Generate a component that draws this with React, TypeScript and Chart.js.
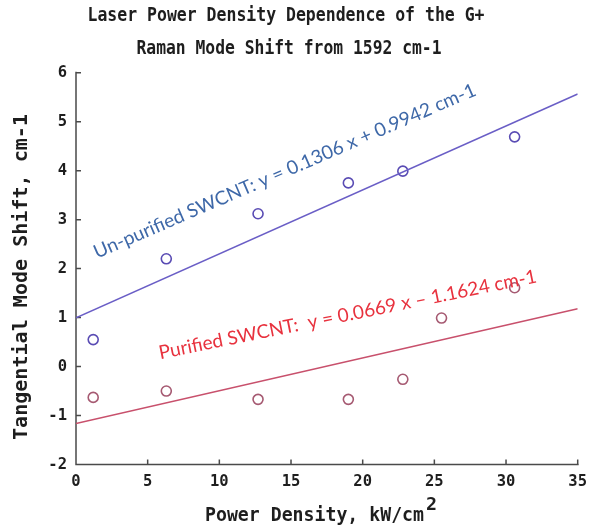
import { useEffect, useRef } from "react";
import { Chart, registerables } from "chart.js";

Chart.register(...registerables);

// Measured G+ shifts (cm-1) against laser power density (kW/cm2)
const unpurifiedDensity = [1.2, 6.3, 12.7, 19.0, 22.8, 30.6];
const unpurifiedShift = [0.55, 2.2, 3.12, 3.75, 3.99, 4.69];
const purifiedDensity = [1.2, 6.3, 12.7, 19.0, 22.8, 25.5, 30.6];
const purifiedShift = [-0.63, -0.5, -0.67, -0.67, -0.26, 0.99, 1.61];

// Linear fits quoted in the annotations
const unpurifiedSlope = 0.1306;
const unpurifiedIntercept = 0.9942;
const purifiedSlope = 0.0669;
const purifiedIntercept = -1.1624;

const xTicks = [0, 5, 10, 15, 20, 25, 30, 35];
const yTicks = [-2, -1, 0, 1, 2, 3, 4, 5, 6];

const titleLines = [
  "Laser Power Density Dependence of the G+",
  "Raman Mode Shift from 1592 cm-1",
];
const xTitle = "Power Density, kW/cm";
const xTitleSup = "2";
const yTitle = "Tangential Mode Shift, cm-1";
const unpurifiedLabel = "Un-purified SWCNT: y = 0.1306 x + 0.9942 cm-1";
const purifiedLabel = "Purified SWCNT:  y = 0.0669 x \u2013 1.1624 cm-1";

// Where each fit label starts and ends along its baseline, in data units
const unpurifiedLabelSpan = [[1.47, 2.2], [28.0, 5.55]];
const purifiedLabelSpan = [[5.87, 0.15], [32.2, 1.72]];

const MONO = "'DejaVu Sans Mono', monospace";
const AXIS_COLOR = "#4a4a4a";
const TEXT_COLOR = "#1e1e1e";
const BLUE_LINE = "#6a5ec6";
const BLUE_POINT = "#5a4cb4";
const RED_LINE = "#c8506c";
const RED_POINT = "#a65a72";
const BLUE_TEXT = "#3e68a8";
const RED_TEXT = "#e8323e";

const fitLine = (slope: number, intercept: number) =>
  [0, 35].map((x) => ({ x, y: slope * x + intercept }));

function fittedText(
  ctx: CanvasRenderingContext2D,
  text: string,
  x: number,
  y: number,
  width: number,
  font: string,
  color: string,
  angle = 0,
  align: CanvasTextAlign = "left"
) {
  ctx.save();
  ctx.font = font;
  ctx.fillStyle = color;
  ctx.textBaseline = "alphabetic";
  ctx.textAlign = align;
  const w = ctx.measureText(text).width;
  ctx.translate(x, y);
  ctx.rotate(angle);
  ctx.scale(width / w, 1);
  ctx.fillText(text, 0, 0);
  ctx.restore();
}

const figurePlugin = {
  id: "figureDecor",
  beforeDatasetsDraw(chart: any) {
    const { ctx, chartArea, scales } = chart;
    const { left, right, bottom, top } = chartArea;
    ctx.save();
    ctx.strokeStyle = AXIS_COLOR;
    ctx.lineWidth = 1.5;
    ctx.beginPath();
    ctx.moveTo(left, top - 1);
    ctx.lineTo(left, bottom);
    ctx.lineTo(right + 1, bottom);
    for (const v of yTicks) {
      const py = scales.y.getPixelForValue(v);
      ctx.moveTo(left, py);
      ctx.lineTo(left + 5, py);
    }
    for (const v of xTicks) {
      const px = scales.x.getPixelForValue(v);
      ctx.moveTo(px, bottom);
      ctx.lineTo(px, bottom - 5);
    }
    ctx.stroke();
    ctx.restore();
  },
  afterDraw(chart: any) {
    const { ctx, scales } = chart;
    const boldMono = (size: number) => `bold ${size}px ${MONO}`;

    // Chart title
    fittedText(ctx, titleLines[0], 286, 21, 397, boldMono(19.5), TEXT_COLOR, 0, "center");
    fittedText(ctx, titleLines[1], 289, 54, 305, boldMono(19.5), TEXT_COLOR, 0, "center");

    // Axis titles
    fittedText(ctx, yTitle, 27, 277, 326, boldMono(19.5), TEXT_COLOR, -Math.PI / 2, "center");
    fittedText(ctx, xTitle, 205, 521, 219, boldMono(19.5), TEXT_COLOR);
    fittedText(ctx, xTitleSup, 426, 510, 11, boldMono(17), TEXT_COLOR);

    // Fit annotations along their lines
    const labels: [string, number[][], string][] = [
      [unpurifiedLabel, unpurifiedLabelSpan, BLUE_TEXT],
      [purifiedLabel, purifiedLabelSpan, RED_TEXT],
    ];
    for (const [text, span, color] of labels) {
      const x0 = scales.x.getPixelForValue(span[0][0]);
      const y0 = scales.y.getPixelForValue(span[0][1]);
      const x1 = scales.x.getPixelForValue(span[1][0]);
      const y1 = scales.y.getPixelForValue(span[1][1]);
      const angle = Math.atan2(y1 - y0, x1 - x0);
      const len = Math.hypot(x1 - x0, y1 - y0);
      fittedText(ctx, text, x0, y0, len, `19px Lato, 'Open Sans', sans-serif`, color, angle);
    }
  },
};

export default function App() {
  const canvasRef = useRef<HTMLCanvasElement | null>(null);

  useEffect(() => {
    const canvas = canvasRef.current;
    if (!canvas) return;

    const chart = new Chart(canvas, {
      type: "scatter",
      data: {
        datasets: [
          {
            type: "line",
            label: "Un-purified fit",
            data: fitLine(unpurifiedSlope, unpurifiedIntercept),
            borderColor: BLUE_LINE,
            borderWidth: 1.5,
            pointRadius: 0,
            fill: false,
          },
          {
            type: "line",
            label: "Purified fit",
            data: fitLine(purifiedSlope, purifiedIntercept),
            borderColor: RED_LINE,
            borderWidth: 1.5,
            pointRadius: 0,
            fill: false,
          },
          {
            label: "Un-purified SWCNT",
            data: unpurifiedDensity.map((x, i) => ({ x, y: unpurifiedShift[i] })),
            borderColor: BLUE_POINT,
            backgroundColor: "rgba(0,0,0,0)",
            borderWidth: 1.6,
            pointRadius: 5,
          },
          {
            label: "Purified SWCNT",
            data: purifiedDensity.map((x, i) => ({ x, y: purifiedShift[i] })),
            borderColor: RED_POINT,
            backgroundColor: "rgba(0,0,0,0)",
            borderWidth: 1.6,
            pointRadius: 5,
          },
        ],
      },
      options: {
        animation: false,
        responsive: false,
        maintainAspectRatio: false,
        layout: { padding: { top: 72.7, right: 14.3, left: 0, bottom: 0 } },
        plugins: {
          legend: { display: false },
          tooltip: { enabled: false },
          title: { display: false },
        },
        scales: {
          x: {
            type: "linear",
            min: 0,
            max: 35,
            grid: { display: false, drawTicks: false },
            border: { display: false },
            afterBuildTicks: (scale: any) => {
              scale.ticks = xTicks.map((value) => ({ value }));
            },
            afterFit: (scale: any) => {
              scale.height = 67.5;
              scale.paddingLeft = 0;
              scale.paddingRight = 0;
            },
            ticks: {
              autoSkip: false,
              maxRotation: 0,
              padding: 8,
              color: TEXT_COLOR,
              font: { family: MONO, weight: "bold", size: 15.5 },
            },
          },
          y: {
            type: "linear",
            min: -2,
            max: 6,
            grid: { display: false, drawTicks: false },
            border: { display: false },
            afterBuildTicks: (scale: any) => {
              scale.ticks = yTicks.map((value) => ({ value }));
            },
            afterFit: (scale: any) => {
              scale.width = 76;
              scale.paddingTop = 0;
              scale.paddingBottom = 0;
            },
            ticks: {
              autoSkip: false,
              padding: 9,
              color: TEXT_COLOR,
              font: { family: MONO, weight: "bold", size: 15.5 },
            },
          },
        },
      },
      plugins: [figurePlugin],
    });

    return () => chart.destroy();
  }, []);

  return (
    <div
      style={{
        position: "fixed",
        left: 0,
        top: 0,
        width: 592,
        height: 532,
        background: "#ffffff",
      }}
    >
      <canvas ref={canvasRef} width={592} height={532} style={{ display: "block" }} />
    </div>
  );
}
